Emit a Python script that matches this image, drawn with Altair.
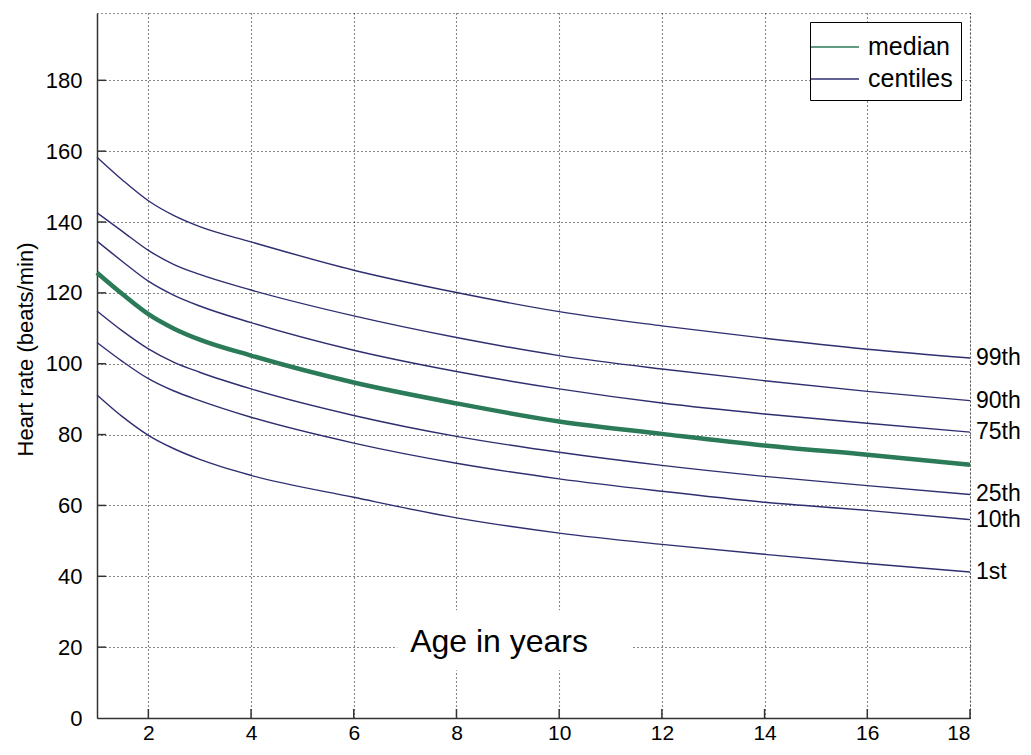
import altair as alt
import pandas as pd

FONT = "Liberation Sans"
NAVY = "#2e2e70"
GREEN = "#2b7a58"

ages = [1, 1.5, 2, 2.5, 3, 4, 6, 8, 10, 12, 14, 16, 18]
p99 = [158.3, 151.8, 146.0, 141.8, 138.7, 134.4, 126.4, 120.1, 114.7, 110.7, 107.2, 104.1, 101.6]
p90 = [142.6, 137.3, 132.0, 128.0, 125.2, 120.8, 113.5, 107.4, 102.3, 98.5, 95.2, 92.2, 89.6]
p75 = [134.6, 128.8, 123.3, 119.3, 116.3, 111.6, 103.8, 97.8, 92.9, 88.9, 85.8, 83.2, 80.7]
p50 = [125.7, 119.6, 114.0, 109.9, 106.8, 102.3, 94.7, 88.8, 83.7, 80.2, 76.9, 74.3, 71.5]
p25 = [114.9, 109.2, 104.2, 100.4, 97.6, 92.9, 85.4, 79.5, 75.0, 71.3, 68.2, 65.6, 63.1]
p10 = [106.0, 100.6, 95.8, 92.3, 89.6, 84.9, 77.6, 71.9, 67.5, 64.0, 60.9, 58.6, 56.0]
p1 = [91.2, 85.0, 79.8, 76.0, 73.0, 68.5, 62.3, 56.5, 52.2, 49.0, 46.2, 43.6, 41.2]

series_names = ["99th", "90th", "75th", "median", "25th", "10th", "1st"]
series_vals = [p99, p90, p75, p50, p25, p10, p1]
end_labels = ["99th", "90th", "75th", "25th", "10th", "1st"]

x_ticks = [2, 4, 6, 8, 10, 12, 14, 16, 18]
y_ticks = [0, 20, 40, 60, 80, 100, 120, 140, 160, 180]
x_title = "Age in years"
y_title = "Heart rate (beats/min)"

rows = []
for name, vals in zip(series_names, series_vals):
    kind = "median" if name == "median" else "centiles"
    for a, v in zip(ages, vals):
        rows.append({"age": a, "hr": v, "series": name, "kind": kind})
df = pd.DataFrame(rows)

last = dict(zip(series_names, series_vals))
end_df = pd.DataFrame({
    "age": [ages[-1]] * len(end_labels),
    "hr": [last[n][-1] for n in end_labels],
    "label": end_labels,
})

x_scale = alt.Scale(domain=[1, 18], nice=False, zero=False)
y_scale = alt.Scale(domain=[0, 199], nice=False)
color_scale = alt.Scale(domain=["median", "centiles"], range=[GREEN, NAVY])

x_axis = alt.Axis(values=x_ticks, title=None, ticks=False, labelPadding=4,
                  labelFontSize=21, labelFont=FONT, labelColor="black")
y_axis = alt.Axis(values=y_ticks, title=y_title, ticks=False, labelPadding=15,
                  labelFontSize=22, labelFont=FONT, labelColor="black",
                  titleFont=FONT, titleFontSize=22, titleFontWeight="normal",
                  titleColor="black", titleAngle=270, titleX=-72, titleY=336,
                  titleAlign="center", titleBaseline="middle")

legend = alt.Legend(orient="none", legendX=713, legendY=9, title=None,
                    strokeColor="black", fillColor="white", padding=8,
                    symbolType="M-1.5,0H1.5", symbolSize=1024,
                    symbolStrokeWidth=1.5, labelFontSize=25, labelFont=FONT,
                    labelColor="black", labelOffset=16, rowPadding=2)

base = alt.Chart(df)

centiles = base.transform_filter(alt.datum.kind == "centiles").mark_line(
    strokeWidth=1.4, interpolate="monotone"
).encode(
    x=alt.X("age:Q", scale=x_scale, axis=x_axis),
    y=alt.Y("hr:Q", scale=y_scale, axis=y_axis),
    color=alt.Color("kind:N", scale=color_scale, legend=legend),
    detail="series:N",
)

median = base.transform_filter(alt.datum.kind == "median").mark_line(
    strokeWidth=4.5, interpolate="monotone"
).encode(
    x=alt.X("age:Q", scale=x_scale),
    y=alt.Y("hr:Q", scale=y_scale),
    color=alt.Color("kind:N", scale=color_scale, legend=legend),
)

labels = alt.Chart(end_df).mark_text(
    align="left", baseline="middle", dx=6, fontSize=23, font=FONT, color="black"
).encode(x=alt.X("age:Q", scale=x_scale), y=alt.Y("hr:Q", scale=y_scale), text="label:N")

xt = alt.Chart(pd.DataFrame({"t": x_ticks})).mark_rule(color="#333", strokeWidth=1.5).encode(
    x=alt.X("t:Q", scale=x_scale), y=alt.value(705), y2=alt.value(696))
yt = alt.Chart(pd.DataFrame({"t": y_ticks[1:]})).mark_rule(color="#333", strokeWidth=1.5).encode(
    y=alt.Y("t:Q", scale=y_scale), x=alt.value(0), x2=alt.value(9))

title_box = alt.Chart(pd.DataFrame({"x0": [6.85], "x1": [11.4], "y0": [13.5], "y1": [30.4]})).mark_rect(
    fill="white").encode(x=alt.X("x0:Q", scale=x_scale), x2="x1:Q",
                         y=alt.Y("y0:Q", scale=y_scale), y2="y1:Q")
title_txt = alt.Chart(pd.DataFrame({"x": [8.83], "y": [21.5], "t": [x_title]})).mark_text(
    fontSize=32, font=FONT, color="black", align="center", baseline="middle"
).encode(x=alt.X("x:Q", scale=x_scale), y=alt.Y("y:Q", scale=y_scale), text="t:N")

chart = alt.layer(title_box, centiles, median, labels, xt, yt, title_txt).properties(
    width=873, height=705,
    autosize=alt.AutoSizeParams(type="none"),
    padding={"left": 89, "top": 5, "right": 52, "bottom": 27},
).configure_view(
    stroke="#222", strokeDash=[1, 3], strokeWidth=1
).configure_axis(
    domainColor="#333", domainWidth=1.5, grid=True, gridColor="#111",
    gridDash=[1, 3], gridWidth=1.1, gridOpacity=1,
)

chart.save("out.html", embed_options={"renderer": "svg", "actions": False})
